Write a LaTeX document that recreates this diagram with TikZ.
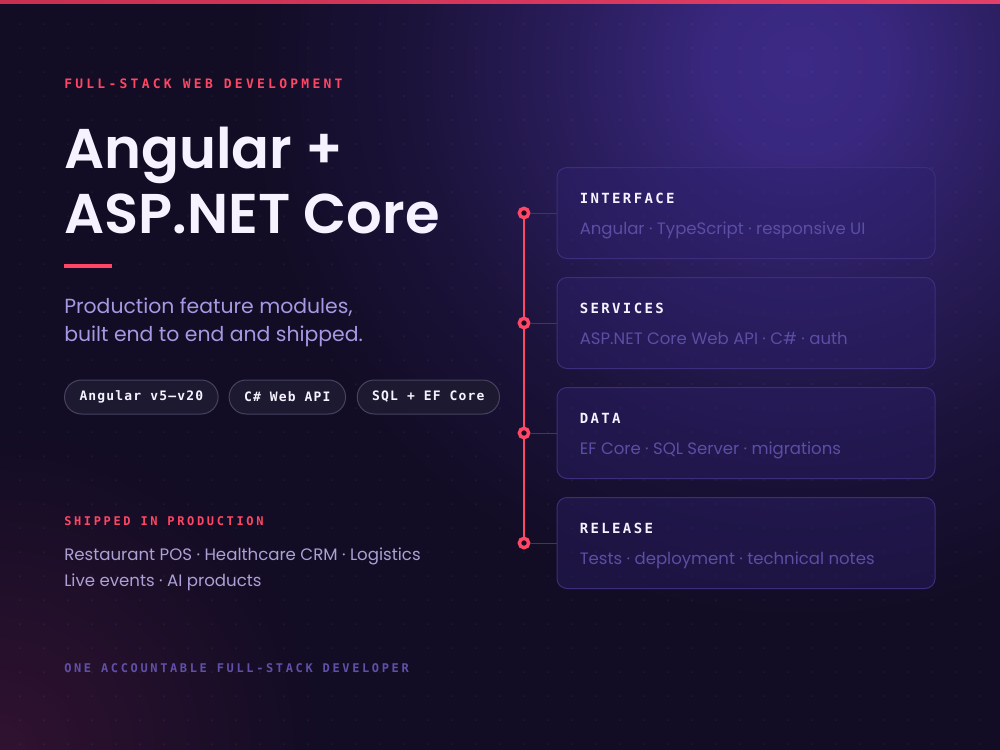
\documentclass[tikz,border=0pt]{standalone}
\usepackage{fontspec}
\setmainfont{Poppins}
\newfontfamily\headfont{Poppins SemiBold}
\newfontfamily\kickfont[LetterSpace=25]{DejaVu Sans Mono}
\newfontfamily\smallkickfont[LetterSpace=22]{DejaVu Sans Mono}
\newfontfamily\capfont[LetterSpace=17]{DejaVu Sans Mono}
\newfontfamily\pillfont[LetterSpace=9]{DejaVu Sans Mono}
\usetikzlibrary{positioning}

\definecolor{bgdark}{RGB}{18,12,36}
\definecolor{glowpurple}{RGB}{60,42,134}
\definecolor{glowred}{RGB}{48,18,48}
\definecolor{accent}{RGB}{255,70,100}
\definecolor{toplineL}{RGB}{200,48,80}
\definecolor{toplineR}{RGB}{226,64,104}
\definecolor{titlecol}{RGB}{246,242,255}
\definecolor{subcol}{RGB}{166,152,226}
\definecolor{shipcol}{RGB}{172,160,212}
\definecolor{footcol}{RGB}{96,80,168}
\definecolor{pillfill}{RGB}{29,25,48}
\definecolor{pillline}{RGB}{72,66,96}
\definecolor{cardfill}{RGB}{45,32,110}
\definecolor{cardline}{RGB}{60,46,124}
\definecolor{cardsub}{RGB}{92,78,164}
\definecolor{linkcol}{RGB}{110,36,72}

\pgfdeclareradialshading{purpleglow}{\pgfpoint{0bp}{0bp}}{color(0bp)=(glowpurple); color(4bp)=(glowpurple!92!bgdark); color(10bp)=(glowpurple!58!bgdark); color(17.5bp)=(glowpurple!22!bgdark); color(25bp)=(bgdark); color(50bp)=(bgdark)}
\pgfdeclareradialshading{redglow}{\pgfpoint{0bp}{0bp}}{color(0bp)=(glowred); color(10bp)=(glowred!60!bgdark); color(25bp)=(bgdark); color(50bp)=(bgdark)}

\begin{document}
\begin{tikzpicture}[x=0.75pt,y=0.75pt,yscale=-1,xscale=1,
	kicker/.style={anchor=base west, inner sep=0pt, font=\kickfont\bfseries\fontsize{9.75pt}{12pt}\selectfont},
	smallkicker/.style={anchor=base west, inner sep=0pt, font=\smallkickfont\bfseries\fontsize{9pt}{12pt}\selectfont},
	headline/.style={anchor=base west, inner sep=0pt, text=titlecol, font=\headfont\fontsize{42pt}{48pt}\selectfont},
	lede/.style={anchor=base west, inner sep=0pt, text=subcol, font=\fontsize{15.3pt}{18pt}\selectfont},
	shiplist/.style={anchor=base west, inner sep=0pt, text=shipcol, font=\fontsize{12.45pt}{15pt}\selectfont},
	pill/.style={draw=pillline, fill=pillfill, line width=0.75pt, rounded corners=12.75pt, minimum height=25.5pt, inner xsep=11.25pt, inner ysep=0pt, text=titlecol, font=\pillfont\bfseries\fontsize{9.75pt}{12pt}\selectfont},
	card/.style={draw=cardline, fill=cardfill, fill opacity=0.4, line width=0.75pt, rounded corners=7.5pt, minimum width=283.5pt, minimum height=68.25pt},
	cardtitle/.style={anchor=base west, inner sep=0pt, text=titlecol, font=\capfont\bfseries\fontsize{10.5pt}{12pt}\selectfont},
	cardtext/.style={anchor=base west, inner sep=0pt, text=cardsub, font=\fontsize{12.4pt}{15pt}\selectfont},
	ring/.style={circle, draw=accent, fill=bgdark, line width=2.6pt, minimum size=7pt, inner sep=0pt},
	link/.style={draw=linkcol, line width=0.75pt},
	griddot/.style={fill=white, fill opacity=0.06}]
	\useasboundingbox (0,0) rectangle (1000,750);
	
	%Background
	\fill[bgdark] (0,0) rectangle (1000,750);
	\shade[shading=redglow] (0,750) circle (240pt);
	\shade[shading=purpleglow] (800,65) circle (420pt);
	\foreach \i in {0,...,41}{\foreach \j in {0,...,30}{\fill[griddot] (20+24*\i,24+24*\j) circle (0.75pt);}}
	\shade[left color=toplineL, right color=toplineR] (0,0) rectangle (1000,3);
	
	% Text Node
	\node[kicker, text=accent] (kickTop) at (64,88) {FULL-STACK WEB DEVELOPMENT};
	% Text Node
	\node[headline] (headA) at (64,168) {Angular +};
	% Text Node
	\node[headline] (headB) at (64,233) {ASP.NET Core};
	
	%Shape: Rectangle
	\fill[accent] (64,264) rectangle (112,268);
	
	% Text Node
	\node[lede] (ledeA) at (64,313) {Production feature modules,};
	% Text Node
	\node[lede] (ledeB) at (64,341) {built end to end and shipped.};
	
	%Pills
	\node[pill, anchor=west] (pillNg) at (64,397) {Angular v5–v20};
	\node[pill, right=7.5pt of pillNg] (pillApi) {C\# Web API};
	\node[pill, right=8pt of pillApi] (pillSql) {SQL + EF Core};
	
	% Text Node
	\node[smallkicker, text=accent] (kickShip) at (64,525) {SHIPPED IN PRODUCTION};
	% Text Node
	\node[shiplist] (shipA) at (64,560) {Restaurant POS · Healthcare CRM · Logistics};
	% Text Node
	\node[shiplist] (shipB) at (64,586) {Live events · AI products};
	% Text Node
	\node[smallkicker, text=footcol] (kickFoot) at (64,672) {ONE ACCOUNTABLE FULL-STACK DEVELOPER};
	
	%Cards
	\node[card] (cardUi) at (746,213) {};
	\node[card] (cardApi) at (746,323) {};
	\node[card] (cardData) at (746,433) {};
	\node[card] (cardRel) at (746,543) {};
	
	\node[cardtitle] (titleUi) at ([xshift=17.25pt,yshift=-7.5pt]cardUi.west) {INTERFACE};
	\node[cardtext] (textUi) at ([xshift=17.25pt,yshift=15.75pt]cardUi.west) {Angular · TypeScript · responsive UI};
	\node[cardtitle] (titleApi) at ([xshift=17.25pt,yshift=-7.5pt]cardApi.west) {SERVICES};
	\node[cardtext] (textApi) at ([xshift=17.25pt,yshift=15.75pt]cardApi.west) {ASP.NET Core Web API · C\# · auth};
	\node[cardtitle] (titleData) at ([xshift=17.25pt,yshift=-7.5pt]cardData.west) {DATA};
	\node[cardtext] (textData) at ([xshift=17.25pt,yshift=15.75pt]cardData.west) {EF Core · SQL Server · migrations};
	\node[cardtitle] (titleRel) at ([xshift=17.25pt,yshift=-7.5pt]cardRel.west) {RELEASE};
	\node[cardtext] (textRel) at ([xshift=17.25pt,yshift=15.75pt]cardRel.west) {Tests · deployment · technical notes};
	
	%Timeline
	\coordinate (railTop) at (524,213);
	\coordinate (railEnd) at (524,543);
	\draw[accent, line width=1.9pt] (railTop) -- (railEnd);
	\node[ring] (ringUi) at (524,213) {};
	\node[ring] (ringApi) at (524,323) {};
	\node[ring] (ringData) at (524,433) {};
	\node[ring] (ringRel) at (524,543) {};
	\draw[link] (ringUi) -- (cardUi);
	\draw[link] (ringApi) -- (cardApi);
	\draw[link] (ringData) -- (cardData);
	\draw[link] (ringRel) -- (cardRel);
\end{tikzpicture}
\end{document}
